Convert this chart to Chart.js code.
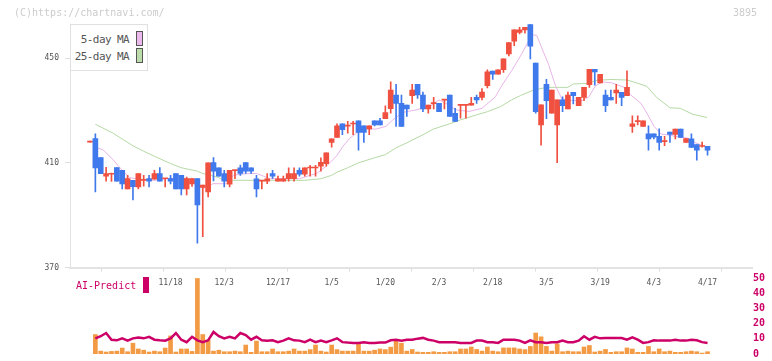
<!DOCTYPE html>
<html><head><meta charset="utf-8">
<script src="https://cdn.jsdelivr.net/npm/chart.js@4"></script>
<style>
html,body{margin:0;padding:0;background:#fff}
body{width:772px;height:361px;overflow:hidden;position:relative;font-family:"DejaVu Sans Mono",monospace}
canvas{position:absolute;left:0}
#c1{top:0}
#c2{top:270px}
.t{position:absolute;white-space:nowrap;line-height:1}
#lg{position:absolute;left:70px;top:24px;width:76px;height:45px;border:1px solid #e0e0e0;background:#fff}
#lg .lt{position:absolute;right:18px;font-size:11px;letter-spacing:-0.6px;color:#555;line-height:12px}
#lg .sw{position:absolute;left:65px;width:5px;height:13px;border:1px solid #555}
</style></head><body>
<canvas id="c1" width="772" height="300"></canvas>
<canvas id="c2" width="772" height="91"></canvas>
<div class="t" style="left:14px;top:7.5px;font-size:10px;color:#cccccc">(C)https://chartnavi.com/</div>
<div class="t" style="right:15px;top:7.5px;font-size:10px;color:#cccccc">3895</div>
<div id="lg">
  <div class="lt" style="top:8.5px">5-day MA</div>
  <div class="sw" style="top:6px;background:#ebb9eb"></div>
  <div class="lt" style="top:25.5px">25-day MA</div>
  <div class="sw" style="top:23px;background:#bddcac"></div>
</div>
<div class="t" style="left:76px;top:281px;font-size:10px;color:#cc0066">AI-Predict</div>
<div style="position:absolute;left:142.5px;top:277px;width:6px;height:16px;background:#cc0066"></div>
<script>
// ---- data ----
const openP = [417.9,419.2,412.0,404.9,405.6,408.2,407.1,400.0,403.3,400.8,
403.3,404.0,403.7,405.9,403.9,404.0,405.9,405.2,400.0,401.9,
404.0,400.6,398.9,410.1,408.1,405.9,401.8,407.0,408.1,410.1,
408.1,403.9,403.0,403.0,405.9,403.0,403.0,403.9,403.9,407.1,
405.6,408.0,408.0,408.7,409.7,417.8,419.7,424.9,424.0,424.8,
426.0,424.1,422.9,426.0,426.0,426.8,430.7,435.9,432.7,432.0,
435.6,440.0,435.9,430.6,432.6,432.7,433.9,435.9,428.9,431.9,
431.9,432.0,435.0,435.0,439.4,445.0,443.8,445.6,451.6,456.4,
459.8,460.7,462.8,448.1,424.5,440.0,428.9,424.5,434.0,430.6,
436.9,431.8,435.0,439.8,445.7,440.5,435.9,435.0,436.7,436.9,
435.6,423.9,425.7,423.9,421.1,421.1,420.1,418.1,421.7,420.8,
422.9,417.8,419.1,416.9,416.2,416.3];
const closeP = [418.0,408.0,405.8,405.9,406.0,403.0,401.9,404.0,400.9,405.9,
403.4,403.0,405.9,403.0,404.0,403.0,400.0,400.0,404.0,404.0,
393.9,401.5,410.0,406.8,404.9,403.0,407.1,407.1,405.9,406.8,
406.8,400.0,403.1,403.9,404.9,403.9,403.9,405.9,405.9,405.6,
408.1,408.1,408.1,410.2,413.8,419.1,424.1,422.6,424.1,424.9,
421.6,421.6,424.1,424.5,424.5,429.2,437.8,432.7,423.9,430.6,
437.8,435.9,430.6,432.0,432.7,429.5,434.0,427.7,425.8,432.0,
432.0,432.7,434.0,437.0,444.7,443.8,445.5,449.7,455.9,460.8,
460.8,461.7,454.5,429.5,432.1,433.7,437.8,434.0,431.8,435.9,
435.6,435.0,438.8,445.7,444.7,443.8,431.8,434.0,437.8,435.0,
438.8,424.9,425.8,426.0,419.1,419.8,417.8,418.2,420.8,422.9,
419.7,419.2,415.9,414.8,416.3,414.8];
const highP = [418.1,421.1,412.0,408.3,406.1,408.2,407.1,405.2,403.3,405.9,
405.2,405.2,407.1,408.2,404.0,405.2,405.9,405.2,404.5,404.0,
404.0,401.5,410.0,412.0,408.1,407.1,407.1,407.1,409.1,410.1,
408.1,405.2,403.1,405.9,407.1,404.9,404.9,408.1,408.1,408.1,
408.1,409.0,409.0,411.9,413.8,419.1,424.9,424.9,425.8,425.8,
426.0,424.1,424.1,426.0,427.0,431.7,440.9,440.0,435.9,432.0,
440.0,440.0,437.0,432.0,435.0,432.7,434.0,435.9,430.8,432.0,
432.0,435.0,435.9,438.3,445.5,445.0,445.5,449.7,455.9,460.8,
461.7,461.7,462.8,448.1,432.1,441.9,437.8,434.0,435.2,437.0,
436.9,435.0,438.8,445.7,445.7,443.8,437.8,437.8,440.0,436.9,
445.1,427.9,427.9,426.0,424.1,421.1,423.0,420.1,421.7,422.9,
422.9,419.2,421.1,416.9,417.9,416.3];
const lowP = [417.9,398.9,405.8,403.0,402.9,403.0,400.0,400.0,395.8,400.0,
401.1,400.8,403.7,403.0,400.8,401.9,400.0,397.7,397.7,401.0,
379.3,381.8,397.0,403.1,404.9,400.8,400.8,403.9,405.2,405.9,
405.9,397.0,400.0,402.0,404.0,403.0,403.0,403.0,403.0,404.9,
404.9,404.9,404.9,406.8,408.7,416.0,419.7,420.7,421.3,420.7,
414.8,417.8,420.7,424.1,424.5,426.8,428.9,423.9,423.9,427.7,
432.7,434.6,429.5,428.9,430.6,429.5,430.6,427.7,425.8,427.0,
427.0,432.0,432.7,434.0,438.6,441.8,443.8,444.5,450.8,454.7,
459.2,459.5,449.7,428.9,416.7,426.8,428.9,410.0,429.5,430.6,
432.5,431.8,433.7,438.8,439.6,440.5,429.5,434.0,432.7,431.8,
435.6,421.6,424.5,423.9,414.8,419.1,414.8,416.5,417.8,419.1,
419.7,417.8,415.9,411.0,416.0,412.9];
const ma5X = [1,2.4,4.3,5.3,6.2,7.4,8.7,10.5,12.4,14.3,16.8,18.6,19.8,21,22.9,25.4,26.7,27.9,29.8,31,32.3,33.5,36,39,41,42.2,44,45.9,47.1,48.4,49.6,51.4,53.3,55.1,56.4,58.2,60.7,63.2,65,66.9,68.1,70.6,73,75.5,76.7,78.6,80.4,82.3,83.2,84.2,85.4,86.7,87.9,89.8,91.6,92.9,94.1,95.4,97.2,99.5,100.7,102.6,103.8,105,106.3,107.9,109.4,111.3,112.5,113.7,115];
const ma5Y = [415.9,415.0,411.2,408.7,406.8,404.3,403.9,403.3,403.3,403.9,404.3,403.7,402.7,400.1,402.0,402.0,405.2,405.6,405.9,405.9,404.9,403.9,403.9,403.9,405.2,405.9,408.7,412.5,416.3,419.4,421.3,422.9,422.9,423.9,426.4,429.2,430.2,431.4,434.0,432.0,430.2,429.6,430.8,435.2,439.5,445.4,451.6,458.9,458.6,453.5,447.5,439.3,434.3,433.8,433.7,435.2,439.3,440.9,440.5,438.8,435.9,432.7,428.6,424.0,421.0,420.5,420.0,419.4,417.8,416.9,416.1];
const ma25X = [1,4.3,6.2,8,10,12,15,17,20,21,23,24,25,31,40,43,45,46,48,50,53,55,57,59,62,64,67,69,72,74,76.5,78.5,80.2,82.5,85,89,90,92.6,94.4,97,100,101.2,103.7,105.5,108,109.9,112.3,114.9];
const ma25Y = [424.7,421.3,418.8,416.5,414.4,412.5,409.7,408.1,406.8,405.9,404.9,404.3,403.3,403.3,403.3,403.9,405.2,406.4,408.1,410.0,411.9,413.1,415.7,417.6,420.7,422.9,424.9,426.4,428.3,429.5,431.5,434.0,435.7,437.7,438.8,438.8,440.1,440.3,441.5,441.8,441.6,440.9,439.2,435.0,431.0,430.8,428.5,427.3];
const volume = [null,12.8,1.9,1.3,1.7,1.9,3.9,1.5,7.1,3.3,
2.5,1.3,1.9,1.5,3.9,11.9,1.3,3.3,3.3,1.7,
49.7,12.8,9.2,1.9,2.5,1.5,1.5,1.9,1.5,5.9,
1.1,8.5,1.5,1.5,3.3,1.5,1.5,1.9,3.3,1.9,
1.9,2.9,5.9,1.9,1.3,5.9,2.9,1.9,1.9,1.9,
6.7,1.9,1.9,2.5,3.3,2.9,4.5,9.0,7.1,1.9,
3.0,1.3,1.1,1.1,1.5,1.1,1.1,1.5,1.5,3.3,
3.3,4.6,3.0,1.9,4.6,1.9,1.5,4.0,4.0,4.0,
3.3,2.9,5.0,13.8,11.3,5.0,1.9,6.7,1.5,1.9,
1.5,1.5,4.6,5.6,1.3,1.9,3.0,1.1,1.5,1.5,
4.0,3.3,1.1,1.1,5.0,1.5,3.3,1.5,1.9,1.1,
1.1,1.5,1.9,1.5,0.6,1.5];
const aiPredict = [null,10.3,11.7,13.8,9.4,9.0,10.3,8.8,10.3,10.9,
10.3,11.3,9.4,9.0,8.8,10.3,13.8,9.4,7.8,11.3,
9.0,7.8,9.0,14.5,11.7,10.3,11.3,10.3,13.8,12.4,
9.4,11.3,9.0,8.8,9.0,7.8,8.8,10.3,9.0,8.8,
7.8,9.4,7.8,8.8,7.8,9.0,10.3,7.8,7.5,7.3,
7.3,7.8,7.3,7.3,7.5,7.5,9.0,9.4,8.8,9.4,
9.4,10.1,10.6,9.4,8.8,7.8,7.8,7.8,7.8,7.3,
7.3,7.3,8.8,8.8,7.8,7.8,7.3,9.4,9.4,9.4,
8.8,7.3,9.0,7.8,7.8,7.3,7.8,7.8,8.8,7.8,
7.8,8.8,11.7,9.4,11.3,10.3,10.5,10.5,10.5,10.5,
9.4,10.9,9.4,7.3,7.8,9.0,8.8,8.8,8.8,9.4,
8.8,8.8,9.4,9.0,7.8,7.3];
const dateLabels = ['11/18','12/3','12/17','1/5','1/20','2/3','2/18','3/5','3/19','4/3','4/17'];
const dateIdx = [15,25,35,45,55,65,75,85,95,105,115];
const priceTicks = [370,410,450];

// ---- chart ----
Chart.defaults.font.family = "'DejaVu Sans Mono', monospace";
const RED = '#f0503f', BLUE = '#3f79ec';
const XMIN = -3.724, XMAX = 123.28;
const n = openP.length;
const idx = Array.from({length: n}, (_, i) => i);
const candleColors = idx.map(i => closeP[i] >= openP[i] ? RED : BLUE);

new Chart(document.getElementById('c1'), {
  type: 'bar',
  data: { datasets: [
    { type: 'bar', data: idx.map(i => ({x: i, y: [openP[i], closeP[i]]})), backgroundColor: candleColors,
      barThickness: 5, minBarLength: 1, grouped: false, order: 0 },
    { type: 'bar', data: idx.map(i => ({x: i, y: [lowP[i], highP[i]]})), backgroundColor: candleColors,
      barThickness: 1, minBarLength: 1, grouped: false, order: 1 },
    { type: 'line', data: ma5X.map((x, k) => ({x, y: ma5Y[k]})), borderColor: '#e8b4e8', borderWidth: 1,
      pointRadius: 0, order: 2 },
    { type: 'line', data: ma25X.map((x, k) => ({x, y: ma25Y[k]})), borderColor: '#b5d9a5', borderWidth: 1,
      pointRadius: 0, order: 3 }
  ]},
  options: {
    responsive: false, animation: false, events: [],
    layout: { padding: { left: 0, right: 20, top: 24, bottom: 0 } },
    plugins: { legend: { display: false }, tooltip: { enabled: false } },
    scales: {
      x: { type: 'linear', position: 'bottom', weight: 1, min: XMIN, max: XMAX, offset: false,
        grid: { display: false, drawTicks: false }, border: { display: false },
        afterBuildTicks: s => { s.ticks = dateIdx.map(v => ({value: v})); },
        afterFit: s => { s.height = 28.5; },
        ticks: { autoSkip: false, maxRotation: 0, padding: 6.5, color: '#555', font: { size: 8 },
          callback: v => { const k = dateIdx.indexOf(v); return k >= 0 ? dateLabels[k] : ''; } } },
      x2: { type: 'linear', position: 'bottom', weight: 0, min: XMIN, max: XMAX, offset: false,
        grid: { display: true, drawOnChartArea: false, drawTicks: true, tickLength: 4, color: '#dddddd' },
        border: { display: true, color: '#e3e3e3', width: 2 },
        ticks: { display: false },
        afterBuildTicks: s => { s.ticks = Array.from({length: 12}, (_, k) => ({value: XMIN + k * (XMAX - XMIN) / 11})); },
        afterFit: s => { s.height = 4; } },
      y: { type: 'linear', position: 'left', min: 370, max: 463,
        afterBuildTicks: s => { s.ticks = priceTicks.map(v => ({value: v})); },
        afterFit: s => { s.width = 70; },
        grid: { display: true, drawOnChartArea: false, drawTicks: true, tickLength: 5, color: '#dddddd' },
        border: { display: true, color: '#e3e3e3', width: 1 },
        ticks: { padding: 6, color: '#555', font: { size: 8 } } }
    }
  }
});

new Chart(document.getElementById('c2'), {
  type: 'bar',
  data: { datasets: [
    { type: 'line', data: idx.map(i => ({x: i, y: aiPredict[i]})), borderColor: '#cc0066', borderWidth: 2.5,
      pointRadius: 0, order: 0 },
    { type: 'bar', data: idx.map(i => ({x: i, y: volume[i]})), backgroundColor: '#f39a45',
      barThickness: 4, grouped: false, order: 1 }
  ]},
  options: {
    responsive: false, animation: false, events: [],
    layout: { padding: { left: 70, right: 0, top: 8, bottom: 3 } },
    plugins: { legend: { display: false }, tooltip: { enabled: false } },
    scales: {
      x: { type: 'linear', display: false, min: XMIN, max: XMAX, offset: false },
      y: { position: 'right', min: 0, max: 50,
        ticks: { stepSize: 10, color: '#cc0066', font: { size: 10, weight: 'bold' }, padding: 1 },
        grid: { display: false, drawTicks: false }, border: { display: false },
        afterFit: s => { s.width = 20; } }
    }
  }
});
</script>
</body></html>
